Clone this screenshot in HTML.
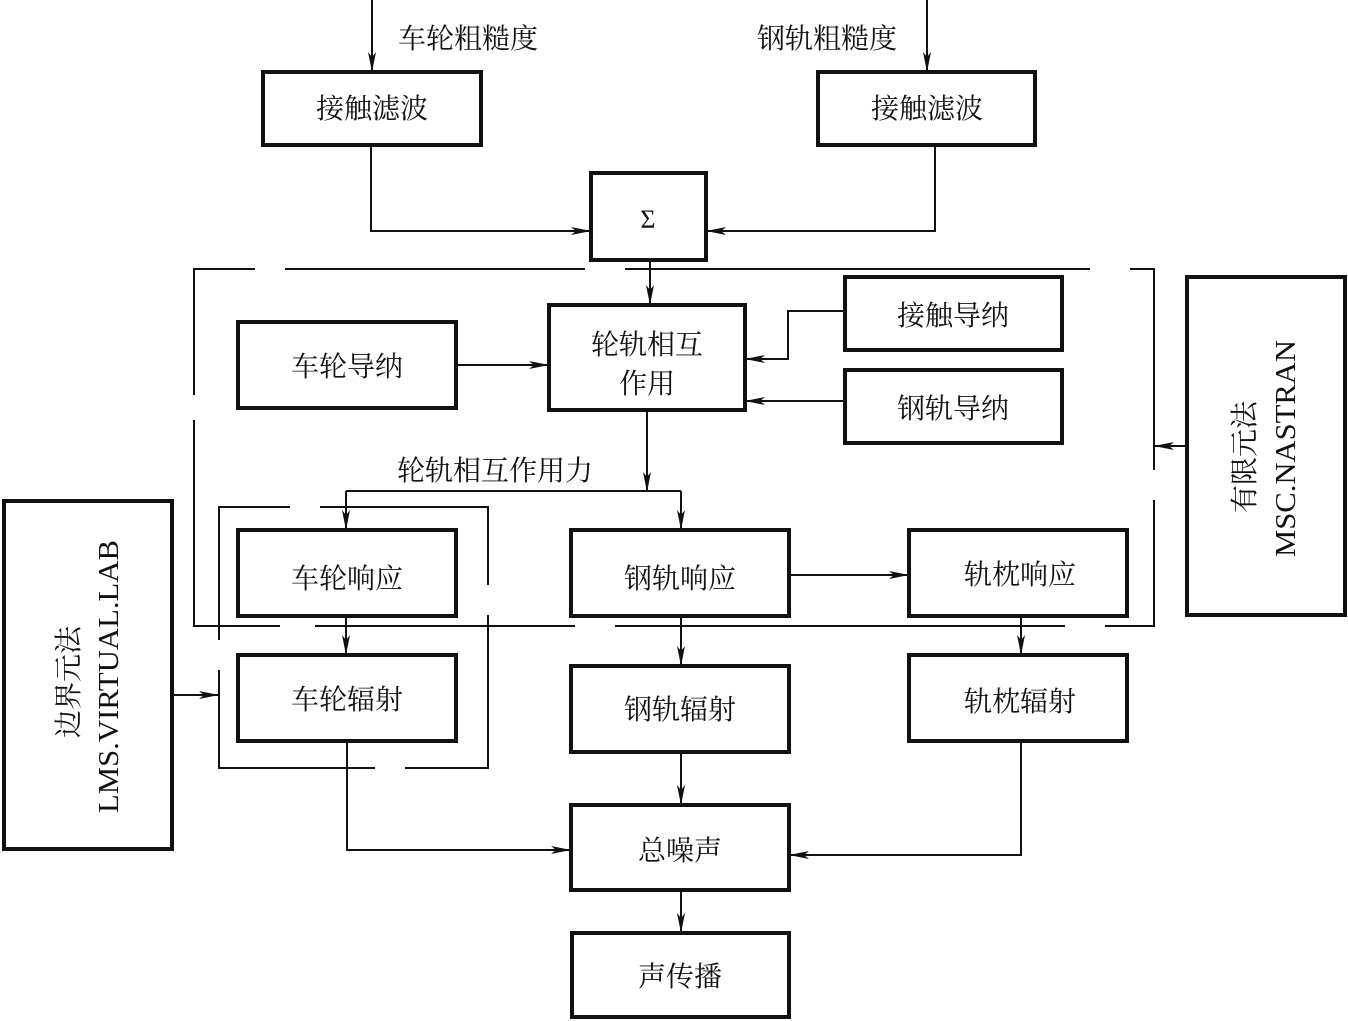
<!DOCTYPE html>
<html><head><meta charset="utf-8"><style>
html,body{margin:0;padding:0;background:#fff;}
svg{display:block;}
text{font-family:"Liberation Serif","Noto Serif CJK SC","Noto Sans CJK SC",serif;fill:#111;}
</style></head><body>
<svg width="1348" height="1021" viewBox="0 0 1348 1021" xmlns="http://www.w3.org/2000/svg">
<defs>
<marker id="a" viewBox="0 0 20 8" refX="20" refY="4" markerWidth="20" markerHeight="8" markerUnits="userSpaceOnUse" orient="auto">
<path d="M0,0 L20,4 L0,8 L5,4 Z" fill="#111"/>
</marker>
</defs>
<g fill="none" stroke="#111" stroke-width="4">
<rect x="263" y="72" width="218" height="73"/>
<rect x="818" y="72" width="217" height="73"/>
<rect x="591" y="173" width="115" height="87"/>
<rect x="549" y="305" width="196" height="105"/>
<rect x="238" y="322" width="218" height="86"/>
<rect x="845" y="277" width="217" height="73"/>
<rect x="845" y="370" width="217" height="73"/>
<rect x="238" y="530" width="218" height="86"/>
<rect x="571" y="530" width="218" height="86"/>
<rect x="909" y="530" width="218" height="86"/>
<rect x="238" y="655" width="218" height="86"/>
<rect x="571" y="666" width="218" height="86"/>
<rect x="909" y="655" width="218" height="86"/>
<rect x="571" y="805" width="218" height="85"/>
<rect x="572" y="933" width="217" height="84"/>
<rect x="4" y="501" width="168" height="348"/>
<rect x="1187" y="277" width="158" height="338"/>
</g>
<g fill="none" stroke="#111" stroke-width="2">
<rect x="194" y="269" width="960" height="357"/>
<rect x="219" y="507" width="269" height="261"/>
</g>
<g fill="#fff" stroke="none">
<rect x="255" y="266" width="30" height="7"/>
<rect x="585" y="266" width="40" height="7"/>
<rect x="1090" y="266" width="40" height="7"/>
<rect x="190" y="395" width="8" height="25"/>
<rect x="1150" y="470" width="8" height="30"/>
<rect x="215" y="640" width="8" height="30"/>
<rect x="484" y="585" width="8" height="30"/>
<rect x="280" y="623" width="35" height="7"/>
<rect x="575" y="623" width="40" height="7"/>
<rect x="1065" y="623" width="40" height="7"/>
<rect x="290" y="504" width="30" height="7"/>
<rect x="375" y="765" width="30" height="7"/>
</g>
<g fill="none" stroke="#111" stroke-width="2">
<line x1="372" y1="0" x2="372" y2="72" marker-end="url(#a)"/>
<line x1="927" y1="0" x2="927" y2="72" marker-end="url(#a)"/>
<polyline points="371,145 371,231 591,231" marker-end="url(#a)"/>
<polyline points="935,145 935,231 706,231" marker-end="url(#a)"/>
<line x1="650" y1="260" x2="650" y2="305" marker-end="url(#a)"/>
<line x1="456" y1="365" x2="549" y2="365" marker-end="url(#a)"/>
<polyline points="845,311 788,311 788,359 745,359" marker-end="url(#a)"/>
<line x1="845" y1="401" x2="745" y2="401" marker-end="url(#a)"/>
<line x1="647" y1="410" x2="647" y2="492" marker-end="url(#a)"/>
<polyline points="346,491 346,491 681,491"/>
<line x1="346" y1="491" x2="346" y2="530" marker-end="url(#a)"/>
<line x1="681" y1="491" x2="681" y2="530" marker-end="url(#a)"/>
<line x1="789" y1="575" x2="909" y2="575" marker-end="url(#a)"/>
<line x1="346" y1="616" x2="346" y2="655" marker-end="url(#a)"/>
<line x1="681" y1="616" x2="681" y2="666" marker-end="url(#a)"/>
<line x1="1021" y1="616" x2="1021" y2="655" marker-end="url(#a)"/>
<line x1="681" y1="752" x2="681" y2="805" marker-end="url(#a)"/>
<polyline points="347,741 347,850 571,850" marker-end="url(#a)"/>
<polyline points="1021,741 1021,855 789,855" marker-end="url(#a)"/>
<line x1="681" y1="890" x2="681" y2="933" marker-end="url(#a)"/>
<line x1="172" y1="695" x2="219" y2="695" marker-end="url(#a)"/>
<line x1="1187" y1="446" x2="1154" y2="446" marker-end="url(#a)"/>
</g>
<g font-size="28">
<text x="398" y="48">车轮粗糙度</text>
<text x="757" y="48">钢轨粗糙度</text>
<text x="372" y="118" text-anchor="middle">接触滤波</text>
<text x="927" y="118" text-anchor="middle">接触滤波</text>
<text x="648" y="228" text-anchor="middle" font-size="26">Σ</text>
<text x="647" y="354" text-anchor="middle">轮轨相互</text>
<text x="647" y="393" text-anchor="middle">作用</text>
<text x="347" y="376" text-anchor="middle">车轮导纳</text>
<text x="953" y="325" text-anchor="middle">接触导纳</text>
<text x="953" y="418" text-anchor="middle">钢轨导纳</text>
<text x="397" y="480">轮轨相互作用力</text>
<text x="347" y="588" text-anchor="middle">车轮响应</text>
<text x="680" y="588" text-anchor="middle">钢轨响应</text>
<text x="1020" y="584" text-anchor="middle">轨枕响应</text>
<text x="347" y="709" text-anchor="middle">车轮辐射</text>
<text x="680" y="719" text-anchor="middle">钢轨辐射</text>
<text x="1020" y="711" text-anchor="middle">轨枕辐射</text>
<text x="680" y="860" text-anchor="middle">总噪声</text>
<text x="680" y="986" text-anchor="middle">声传播</text>
<text transform="translate(78,738) rotate(-90)">边界元法</text>
<text transform="translate(118,813) rotate(-90)" textLength="273" lengthAdjust="spacingAndGlyphs">LMS.VIRTUAL.LAB</text>
<text transform="translate(1254,513) rotate(-90)">有限元法</text>
<text transform="translate(1295,557) rotate(-90)" textLength="217" lengthAdjust="spacingAndGlyphs">MSC.NASTRAN</text>
</g>
</svg>
</body></html>
